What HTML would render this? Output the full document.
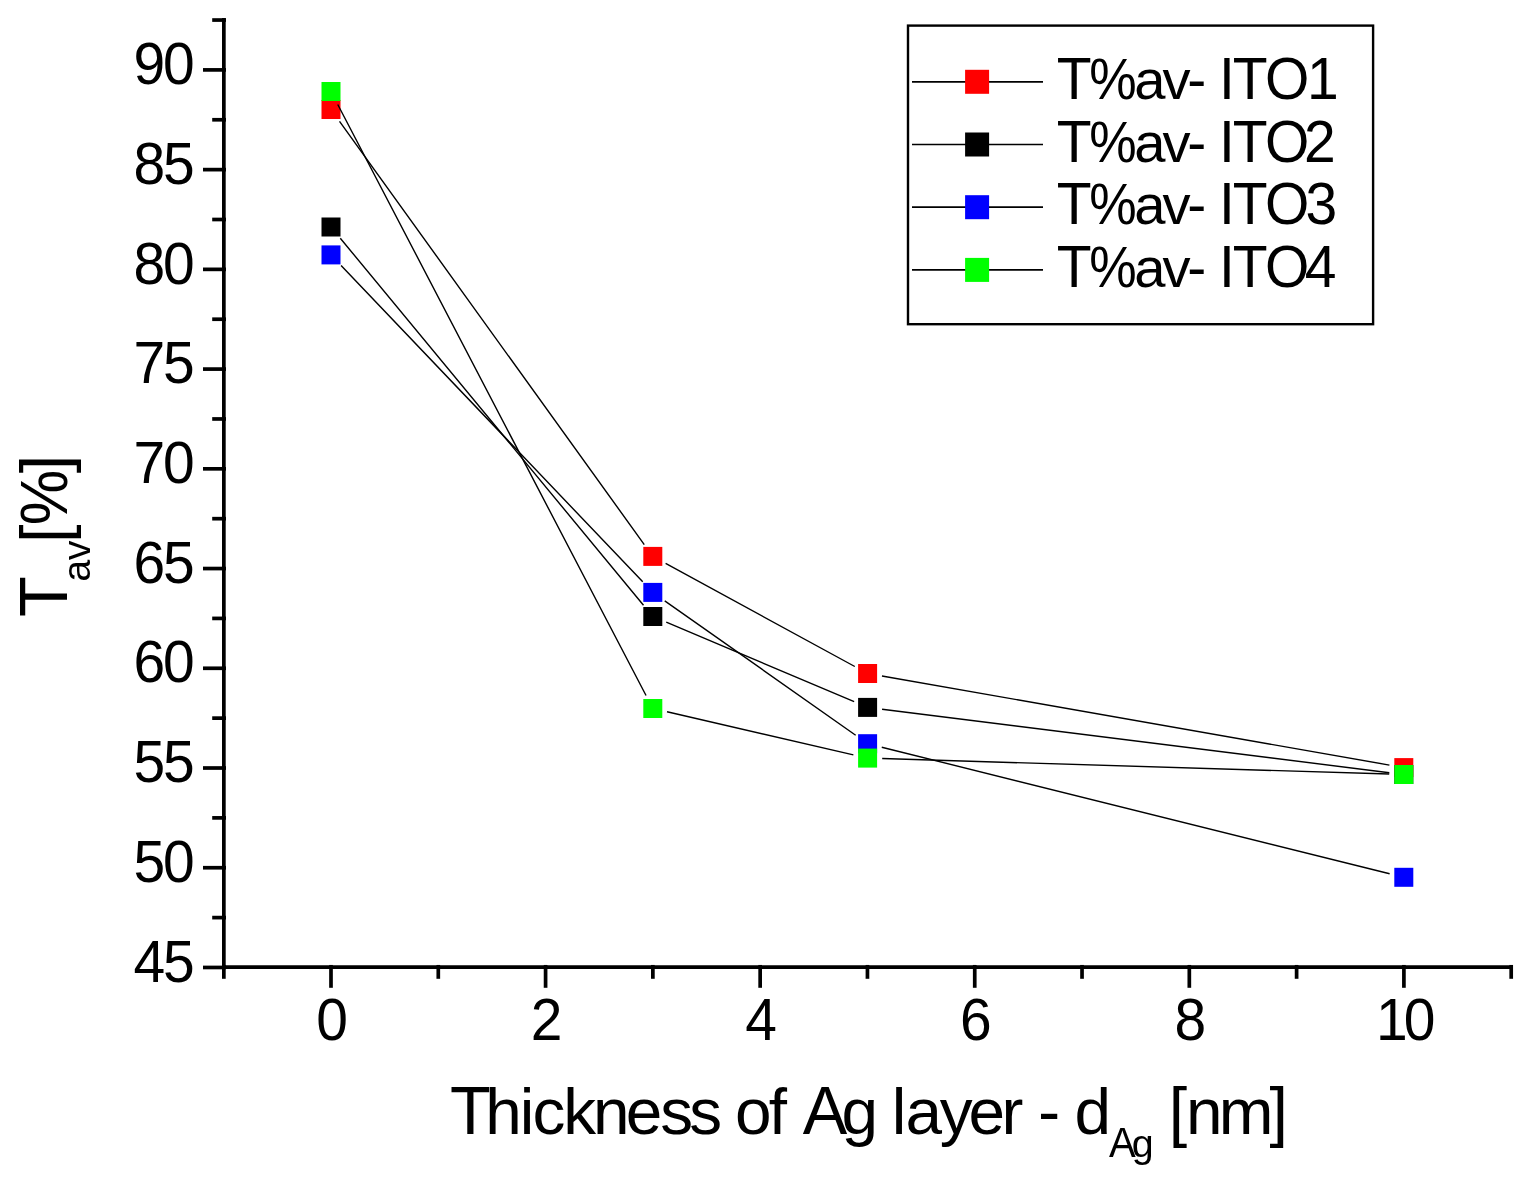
<!DOCTYPE html><html><head><meta charset="utf-8"><title>Tav vs Ag thickness</title><style>html,body{margin:0;padding:0;background:#fff;overflow:hidden;}svg{display:block;}text{font-family:"Liberation Sans",Arial,sans-serif;fill:#000;}</style></head><body>
<svg width="1528" height="1181" viewBox="0 0 1528 1181">
<rect width="100%" height="100%" fill="#fff"/>
<g stroke="#000" stroke-width="3.7" fill="none" stroke-linecap="butt">
<line x1="223.85" y1="18.0" x2="223.85" y2="968.95"/>
<line x1="222.00" y1="967.1" x2="1513.0" y2="967.1"/>
<line x1="203.0" y1="69.90" x2="226.00" y2="69.90"/>
<line x1="203.0" y1="169.63" x2="226.00" y2="169.63"/>
<line x1="203.0" y1="269.36" x2="226.00" y2="269.36"/>
<line x1="203.0" y1="369.09" x2="226.00" y2="369.09"/>
<line x1="203.0" y1="468.82" x2="226.00" y2="468.82"/>
<line x1="203.0" y1="568.55" x2="226.00" y2="568.55"/>
<line x1="203.0" y1="668.28" x2="226.00" y2="668.28"/>
<line x1="203.0" y1="768.01" x2="226.00" y2="768.01"/>
<line x1="203.0" y1="867.74" x2="226.00" y2="867.74"/>
<line x1="203.0" y1="967.47" x2="226.00" y2="967.47"/>
<line x1="212.2" y1="20.04" x2="226.00" y2="20.04"/>
<line x1="212.2" y1="119.77" x2="226.00" y2="119.77"/>
<line x1="212.2" y1="219.50" x2="226.00" y2="219.50"/>
<line x1="212.2" y1="319.23" x2="226.00" y2="319.23"/>
<line x1="212.2" y1="418.96" x2="226.00" y2="418.96"/>
<line x1="212.2" y1="518.69" x2="226.00" y2="518.69"/>
<line x1="212.2" y1="618.41" x2="226.00" y2="618.41"/>
<line x1="212.2" y1="718.14" x2="226.00" y2="718.14"/>
<line x1="212.2" y1="817.88" x2="226.00" y2="817.88"/>
<line x1="212.2" y1="917.61" x2="226.00" y2="917.61"/>
<line x1="223.85" y1="964.95" x2="223.85" y2="978.8"/>
<line x1="331.00" y1="964.95" x2="331.00" y2="987.8"/>
<line x1="438.29" y1="964.95" x2="438.29" y2="978.8"/>
<line x1="545.58" y1="964.95" x2="545.58" y2="987.8"/>
<line x1="652.87" y1="964.95" x2="652.87" y2="978.8"/>
<line x1="760.16" y1="964.95" x2="760.16" y2="987.8"/>
<line x1="867.45" y1="964.95" x2="867.45" y2="978.8"/>
<line x1="974.74" y1="964.95" x2="974.74" y2="987.8"/>
<line x1="1082.03" y1="964.95" x2="1082.03" y2="978.8"/>
<line x1="1189.32" y1="964.95" x2="1189.32" y2="987.8"/>
<line x1="1296.61" y1="964.95" x2="1296.61" y2="978.8"/>
<line x1="1403.90" y1="964.95" x2="1403.90" y2="987.8"/>
<line x1="1511.20" y1="964.95" x2="1511.20" y2="978.8"/>
</g>
<g font-size="59.3" transform="scale(0.961,1)">
<text x="138.81 169.72" y="84.10">90</text>
<text x="138.81 169.72" y="183.83">85</text>
<text x="138.81 169.72" y="283.56">80</text>
<text x="138.81 169.72" y="383.29">75</text>
<text x="138.81 169.72" y="483.02">70</text>
<text x="138.81 169.72" y="582.75">65</text>
<text x="138.81 169.72" y="682.48">60</text>
<text x="138.81 169.72" y="782.21">55</text>
<text x="138.81 169.72" y="881.94">50</text>
<text x="138.81 169.72" y="981.67">45</text>
<text x="328.98" y="1039.9">0</text>
<text x="552.27" y="1039.9">2</text>
<text x="775.55" y="1039.9">4</text>
<text x="998.84" y="1039.9">6</text>
<text x="1222.13" y="1039.9">8</text>
<text x="1431.95 1460.77" y="1039.9">10</text>
</g>
<path d="M339.53,121.35L644.27,544.55M665.62,563.39L854.78,666.51M881.98,676.02L1389.42,765.08" stroke="#000" stroke-width="1.4" fill="none"/>
<rect x="321.50" y="100.00" width="19.0" height="19.0" fill="#ff0000"/>
<rect x="643.30" y="546.90" width="19.0" height="19.0" fill="#ff0000"/>
<rect x="858.10" y="664.00" width="19.0" height="19.0" fill="#ff0000"/>
<rect x="1394.30" y="758.10" width="19.0" height="19.0" fill="#ff0000"/>
<path d="M340.30,238.26L643.50,605.24M666.25,622.19L854.15,701.71M882.09,709.21L1389.31,772.69" stroke="#000" stroke-width="1.4" fill="none"/>
<rect x="321.50" y="217.50" width="19.0" height="19.0" fill="#000000"/>
<rect x="643.30" y="607.00" width="19.0" height="19.0" fill="#000000"/>
<rect x="858.10" y="697.90" width="19.0" height="19.0" fill="#000000"/>
<rect x="1394.30" y="765.00" width="19.0" height="19.0" fill="#000000"/>
<path d="M341.08,265.47L642.72,581.83M664.74,600.81L855.66,735.29M881.77,747.23L1389.63,873.77" stroke="#000" stroke-width="1.4" fill="none"/>
<rect x="321.50" y="245.40" width="19.0" height="19.0" fill="#0000ff"/>
<rect x="643.30" y="582.90" width="19.0" height="19.0" fill="#0000ff"/>
<rect x="858.10" y="734.20" width="19.0" height="19.0" fill="#0000ff"/>
<rect x="1394.30" y="867.80" width="19.0" height="19.0" fill="#0000ff"/>
<path d="M337.75,104.45L646.05,695.55M667.03,711.78L853.37,754.82M882.19,758.55L1389.21,774.05" stroke="#000" stroke-width="1.4" fill="none"/>
<rect x="321.50" y="82.00" width="19.0" height="19.0" fill="#00ff00"/>
<rect x="643.30" y="699.00" width="19.0" height="19.0" fill="#00ff00"/>
<rect x="858.10" y="748.60" width="19.0" height="19.0" fill="#00ff00"/>
<rect x="1394.30" y="765.00" width="19.0" height="19.0" fill="#00ff00"/>
<rect x="908.0" y="25.6" width="465.1" height="298.6" fill="none" stroke="#000" stroke-width="2.4"/>
<line x1="912.0" y1="81.80" x2="1043.0" y2="81.80" stroke="#000" stroke-width="1.7"/>
<rect x="965.10" y="69.80" width="24" height="24" fill="#ff0000"/>
<text x="1056.72 1089.30 1134.21 1162.61 1187.37 1206.35 1218.94 1232.82 1265.00 1307.06" y="98.80" font-size="57"><tspan font-size="59.28" textLength="34.83" lengthAdjust="spacingAndGlyphs">T</tspan><tspan font-size="57.00" textLength="47.44" lengthAdjust="spacingAndGlyphs">%</tspan><tspan font-size="56.14">a</tspan><tspan font-size="56.14">v</tspan>- <tspan font-size="59.28" textLength="15.84" lengthAdjust="spacingAndGlyphs">I</tspan><tspan font-size="59.28" textLength="34.83" lengthAdjust="spacingAndGlyphs">T</tspan><tspan font-size="59.28" textLength="44.36" lengthAdjust="spacingAndGlyphs">O</tspan><tspan font-size="59.28" textLength="31.72" lengthAdjust="spacingAndGlyphs">1</tspan></text>
<line x1="912.0" y1="144.50" x2="1043.0" y2="144.50" stroke="#000" stroke-width="1.7"/>
<rect x="965.10" y="132.50" width="24" height="24" fill="#000000"/>
<text x="1056.72 1089.30 1134.21 1162.61 1187.37 1206.35 1218.94 1232.82 1265.00 1304.03" y="161.50" font-size="57"><tspan font-size="59.28" textLength="34.83" lengthAdjust="spacingAndGlyphs">T</tspan><tspan font-size="57.00" textLength="47.44" lengthAdjust="spacingAndGlyphs">%</tspan><tspan font-size="56.14">a</tspan><tspan font-size="56.14">v</tspan>- <tspan font-size="59.28" textLength="15.84" lengthAdjust="spacingAndGlyphs">I</tspan><tspan font-size="59.28" textLength="34.83" lengthAdjust="spacingAndGlyphs">T</tspan><tspan font-size="59.28" textLength="44.36" lengthAdjust="spacingAndGlyphs">O</tspan><tspan font-size="59.28" textLength="31.72" lengthAdjust="spacingAndGlyphs">2</tspan></text>
<line x1="912.0" y1="207.20" x2="1043.0" y2="207.20" stroke="#000" stroke-width="1.7"/>
<rect x="965.10" y="195.20" width="24" height="24" fill="#0000ff"/>
<text x="1056.72 1089.30 1134.21 1162.61 1187.37 1206.35 1218.94 1232.82 1265.00 1305.53" y="224.20" font-size="57"><tspan font-size="59.28" textLength="34.83" lengthAdjust="spacingAndGlyphs">T</tspan><tspan font-size="57.00" textLength="47.44" lengthAdjust="spacingAndGlyphs">%</tspan><tspan font-size="56.14">a</tspan><tspan font-size="56.14">v</tspan>- <tspan font-size="59.28" textLength="15.84" lengthAdjust="spacingAndGlyphs">I</tspan><tspan font-size="59.28" textLength="34.83" lengthAdjust="spacingAndGlyphs">T</tspan><tspan font-size="59.28" textLength="44.36" lengthAdjust="spacingAndGlyphs">O</tspan><tspan font-size="59.28" textLength="31.72" lengthAdjust="spacingAndGlyphs">3</tspan></text>
<line x1="912.0" y1="269.90" x2="1043.0" y2="269.90" stroke="#000" stroke-width="1.7"/>
<rect x="965.10" y="257.90" width="24" height="24" fill="#00ff00"/>
<text x="1056.72 1089.30 1134.21 1162.61 1187.37 1206.35 1218.94 1232.82 1265.00 1304.79" y="286.90" font-size="57"><tspan font-size="59.28" textLength="34.83" lengthAdjust="spacingAndGlyphs">T</tspan><tspan font-size="57.00" textLength="47.44" lengthAdjust="spacingAndGlyphs">%</tspan><tspan font-size="56.14">a</tspan><tspan font-size="56.14">v</tspan>- <tspan font-size="59.28" textLength="15.84" lengthAdjust="spacingAndGlyphs">I</tspan><tspan font-size="59.28" textLength="34.83" lengthAdjust="spacingAndGlyphs">T</tspan><tspan font-size="59.28" textLength="44.36" lengthAdjust="spacingAndGlyphs">O</tspan><tspan font-size="59.28" textLength="31.72" lengthAdjust="spacingAndGlyphs">4</tspan></text>
<text x="450.10 485.34 519.81 532.51 563.17 593.04 625.71 660.27 689.37 722.22 735.04 768.67 786.92 802.87 841.44 877.98 891.67 905.51 939.74 968.41 1001.54 1023.42 1038.04 1060.25 1074.44" y="1134.3" font-size="66.7"><tspan font-size="69.37" textLength="40.76" lengthAdjust="spacingAndGlyphs">T</tspan><tspan font-size="65.70">h</tspan><tspan font-size="65.70">i</tspan><tspan font-size="65.70">c</tspan><tspan font-size="65.70">k</tspan><tspan font-size="65.70">n</tspan><tspan font-size="65.70">e</tspan><tspan font-size="65.70">s</tspan><tspan font-size="65.70">s</tspan> <tspan font-size="65.70">o</tspan><tspan font-size="65.70">f</tspan> <tspan font-size="69.37" textLength="44.51" lengthAdjust="spacingAndGlyphs">A</tspan><tspan font-size="65.70">g</tspan> <tspan font-size="65.70">l</tspan><tspan font-size="65.70">a</tspan><tspan font-size="65.70">y</tspan><tspan font-size="65.70">e</tspan><tspan font-size="65.70">r</tspan> - <tspan font-size="65.70">d</tspan></text>
<text x="1108.92 1131.65" y="1156.8" font-size="40.0"><tspan font-size="41.60" textLength="26.69" lengthAdjust="spacingAndGlyphs">A</tspan><tspan font-size="39.40">g</tspan></text>
<text x="1168.87 1186.04 1218.74 1269.58" y="1134.3" font-size="66.7"><tspan font-size="66.30">[</tspan><tspan font-size="65.70">n</tspan><tspan font-size="65.70">m</tspan><tspan font-size="66.30">]</tspan></text>
<g transform="translate(66.9,620.0) rotate(-90)">
<text x="3.00" y="0" font-size="66.7"><tspan font-size="69.37" textLength="40.76" lengthAdjust="spacingAndGlyphs">T</tspan></text>
<text x="38.33 59.77" y="22.7" font-size="40.0"><tspan font-size="39.40">a</tspan><tspan font-size="39.40">v</tspan></text>
<text x="77.07 94.77 146.88" y="0" font-size="66.7"><tspan font-size="66.30">[</tspan><tspan font-size="66.70" textLength="55.51" lengthAdjust="spacingAndGlyphs">%</tspan><tspan font-size="66.30">]</tspan></text>
</g>
</svg></body></html>
